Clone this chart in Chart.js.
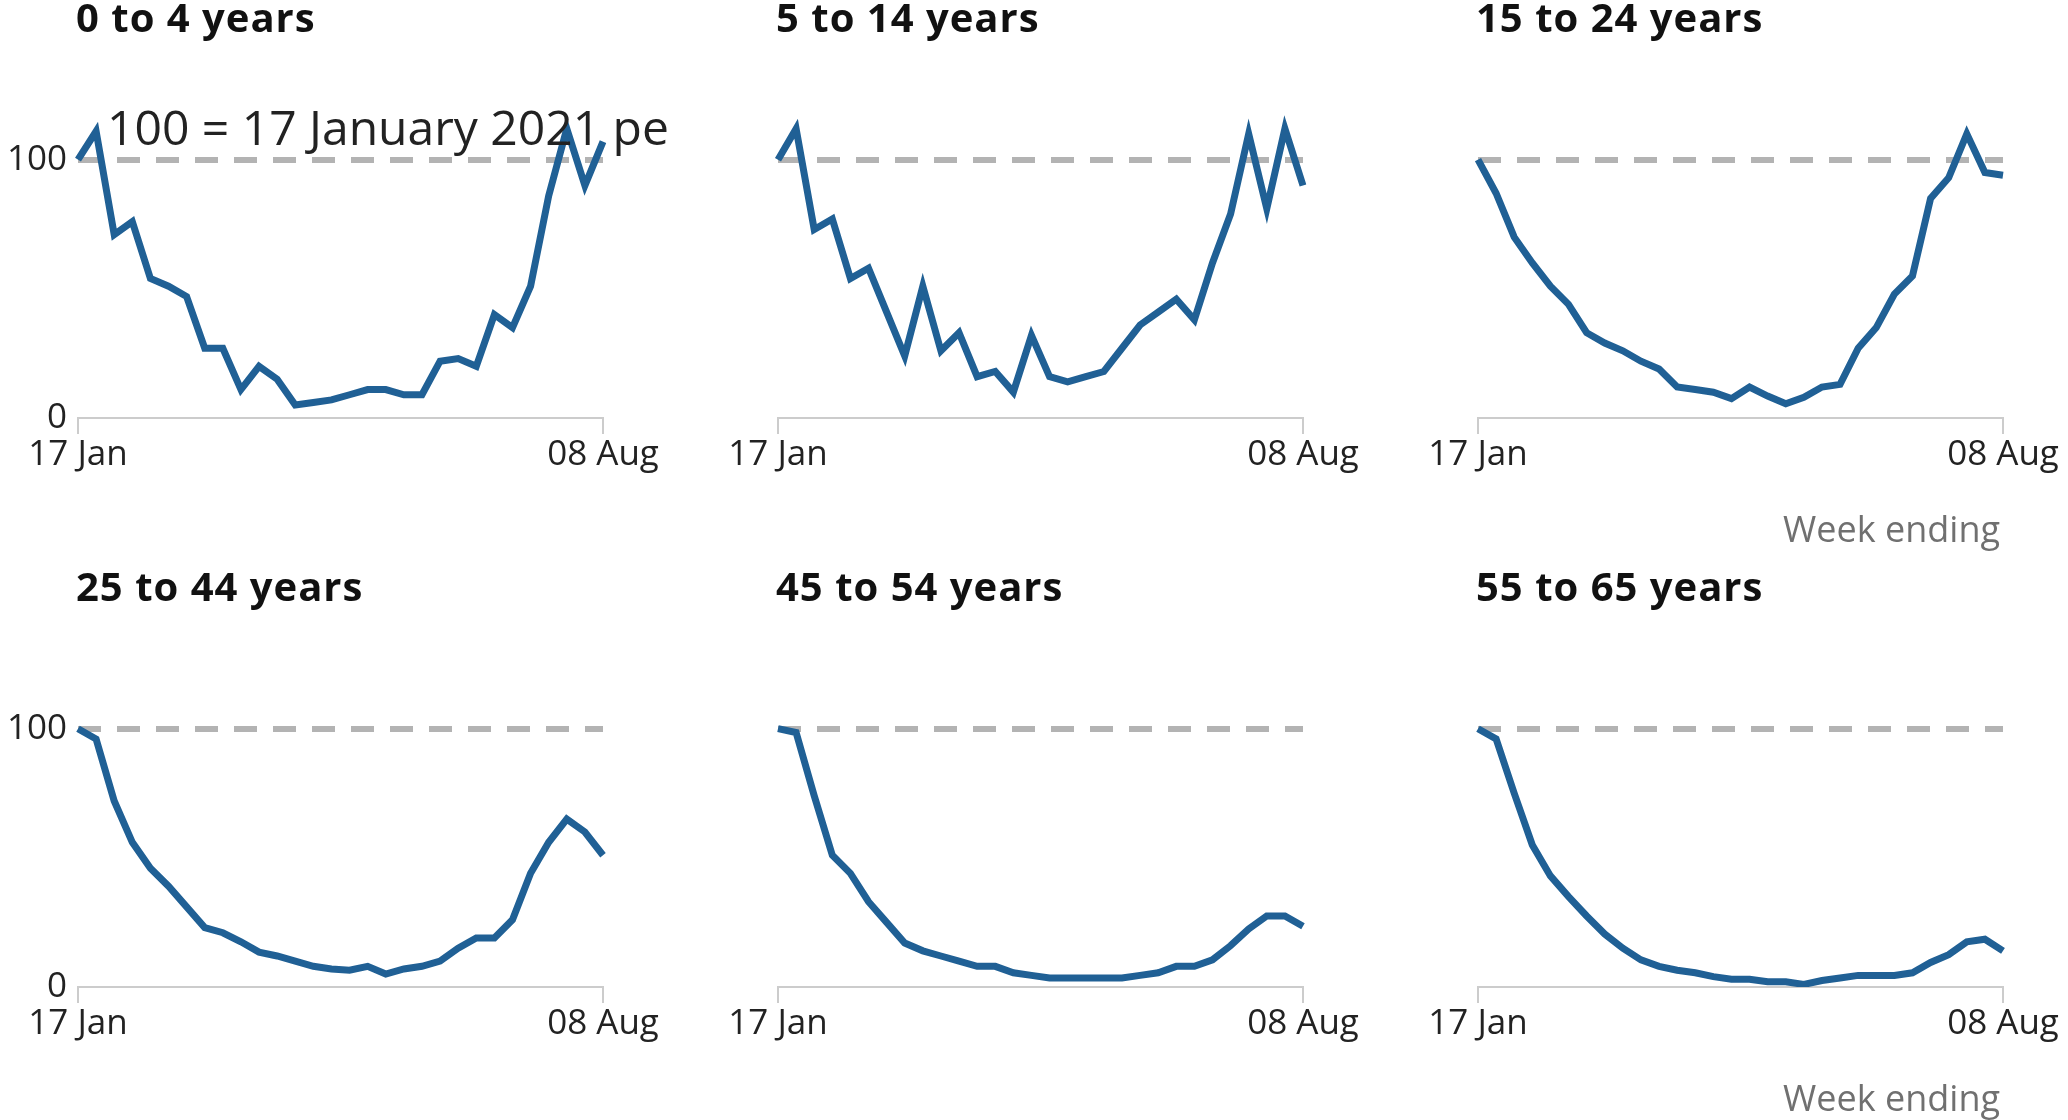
<!DOCTYPE html>
<html>
<head>
<meta charset="utf-8">
<script src="https://cdn.jsdelivr.net/npm/chart.js@4"></script>
<style>
  html, body { margin: 0; padding: 0; background: #fff; overflow: hidden; }
  #wrap { position: relative; width: 2068px; height: 1120px; }
  #wrap canvas { position: absolute; }
</style>
</head>
<body>
<div id="wrap"></div>
<script>
  var weeks = ['17 Jan', '24 Jan', '31 Jan', '07 Feb', '14 Feb', '21 Feb', '28 Feb', '07 Mar', '14 Mar', '21 Mar',
    '28 Mar', '04 Apr', '11 Apr', '18 Apr', '25 Apr', '02 May', '09 May', '16 May', '23 May', '30 May',
    '06 Jun', '13 Jun', '20 Jun', '27 Jun', '04 Jul', '11 Jul', '18 Jul', '25 Jul', '01 Aug', '08 Aug'];

  var yTicks = [0, 100];

  var age0to4 = [100, 111, 71, 76, 54, 51, 47, 27, 27, 11, 20, 15, 5, 6, 7, 9, 11, 11, 9, 9,
    22, 23, 20, 40, 35, 51, 86, 112, 90, 107];
  var age5to14 = [100, 112, 73, 77, 54, 58, 41, 24, 51, 26, 33, 16, 18, 10, 32, 16, 14, 16, 18, 27,
    36, 41, 46, 38, 60, 79, 110, 81, 112, 90];
  var age15to24 = [100, 87, 70, 60, 51, 44, 33, 29, 26, 22, 19, 12, 11, 10, 7.5, 12, 8.5, 5.5, 8, 12,
    13, 27, 35, 48, 55, 85, 93, 110, 95, 94];
  var age25to44 = [100, 96, 72, 56, 46, 39, 31, 23, 21, 17.5, 13.5, 12, 10, 8, 7, 6.5, 8, 5, 7, 8,
    10, 15, 19, 19, 26, 44, 56, 65, 60, 51];
  var age45to54 = [100, 98.5, 74, 51, 44, 33, 25, 17, 14, 12, 10, 8, 8, 5.5, 4.5, 3.5, 3.5, 3.5, 3.5, 3.5,
    4.5, 5.5, 8, 8, 10.5, 16, 22.5, 27.5, 27.5, 23.5];
  var age55to65 = [100, 96, 75, 55, 43, 35, 27.5, 20.5, 15, 10.5, 8, 6.5, 5.5, 4, 3, 3, 2, 2, 1, 2.5,
    3.5, 4.5, 4.5, 4.5, 5.5, 9.5, 12.5, 17.5, 18.5, 14];

  var panels = [
    { title: '0 to 4 years', data: age0to4, col: 0, row: 0, note: '100 = 17 January 2021 peak' },
    { title: '5 to 14 years', data: age5to14, col: 1, row: 0 },
    { title: '15 to 24 years', data: age15to24, col: 2, row: 0, xTitle: 'Week ending' },
    { title: '25 to 44 years', data: age25to44, col: 0, row: 1 },
    { title: '45 to 54 years', data: age45to54, col: 1, row: 1 },
    { title: '55 to 65 years', data: age55to65, col: 2, row: 1, xTitle: 'Week ending' }
  ];

  var FONT = '"Open Sans", "DejaVu Sans", sans-serif';

  // titles, the index note and the "Week ending" label
  var panelText = {
    id: 'panelText',
    afterDraw: function (chart, args, opts) {
      var ctx = chart.ctx;
      var area = chart.chartArea;
      ctx.save();
      ctx.textBaseline = 'alphabetic';
      ctx.textAlign = 'left';
      ctx.fillStyle = '#111';
      ctx.font = 'bold 40px ' + FONT;
      ctx.letterSpacing = '1px';
      ctx.fillText(opts.title, area.left - 2, 32);
      ctx.letterSpacing = '0px';
      if (opts.note) {
        ctx.fillStyle = '#222';
        ctx.font = '48px ' + FONT;
        ctx.fillText(opts.note, area.left + 29, 145);
      }
      if (opts.xTitle) {
        ctx.fillStyle = '#707070';
        ctx.font = '36px ' + FONT;
        ctx.textAlign = 'right';
        ctx.fillText(opts.xTitle, area.right - 3, 542);
      }
      ctx.restore();
    }
  };

  function makePanel(p) {
    var canvas = document.createElement('canvas');
    canvas.width = 670;
    canvas.height = 556;
    canvas.style.left = (p.col * 700 - 1) + 'px';
    canvas.style.top = (p.row * 569) + 'px';
    document.getElementById('wrap').appendChild(canvas);
    var last = weeks.length - 1;

    return new Chart(canvas.getContext('2d'), {
      type: 'line',
      data: {
        labels: weeks,
        datasets: [{
          data: p.data,
          borderColor: '#206095',
          borderWidth: 7,
          borderJoinStyle: 'miter',
          pointRadius: 0,
          tension: 0,
          fill: false
        }]
      },
      options: {
        responsive: false,
        animation: false,
        devicePixelRatio: 1,
        layout: { padding: { top: 108, right: 66, bottom: 0, left: 0 } },
        plugins: {
          legend: { display: false },
          tooltip: { enabled: false },
          panelText: { title: p.title, note: p.note, xTitle: p.xTitle }
        },
        scales: {
          x: {
            type: 'category',
            offset: false,
            afterFit: function (scale) { scale.height = 138; },
            border: { display: true, color: '#cccccc', width: 2 },
            grid: {
              drawOnChartArea: false,
              drawTicks: true,
              tickLength: 16,
              lineWidth: 2,
              color: function (c) { return (c.index === 0 || c.index === last) ? '#cccccc' : 'rgba(0,0,0,0)'; }
            },
            ticks: {
              autoSkip: false,
              maxRotation: 0,
              minRotation: 0,
              padding: 0,
              color: '#222',
              font: { family: FONT, size: 35 },
              callback: function (v, i) { return (i === 0 || i === last) ? weeks[i] : ''; }
            }
          },
          y: {
            min: 0,
            max: 120,
            afterFit: function (scale) { scale.width = 79; },
            afterBuildTicks: function (scale) {
              scale.ticks = yTicks.map(function (v) { return { value: v }; });
            },
            border: { display: false, dash: [23, 16] },
            grid: {
              drawTicks: false,
              lineWidth: 6,
              color: function (c) { return c.tick && c.tick.value === 100 ? '#b3b3b3' : 'rgba(0,0,0,0)'; }
            },
            ticks: {
              display: p.col === 0,
              padding: 11,
              color: '#222',
              font: { family: FONT, size: 35 }
            }
          }
        }
      },
      plugins: [panelText]
    });
  }

  document.addEventListener('DOMContentLoaded', function () {
    panels.forEach(makePanel);
  });
</script>
</body>
</html>
